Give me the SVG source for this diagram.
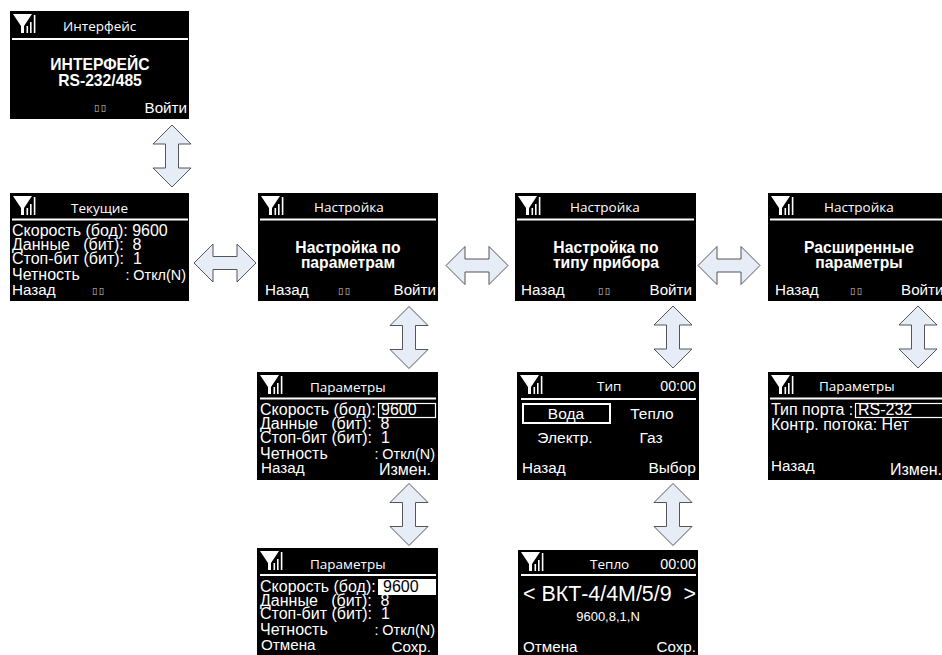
<svg xmlns="http://www.w3.org/2000/svg" width="942" height="655" viewBox="0 0 942 655">
<style>
text{fill:#fff;font-family:"Liberation Sans",Arial,sans-serif;font-size:16px;white-space:pre}
.t{font-family:"Open Sans","DejaVu Sans",sans-serif;font-size:13.5px}
.b{font-weight:bold;font-size:15.700px;text-anchor:middle}
.s{font-family:"DejaVu Sans",sans-serif;font-size:9.500px;letter-spacing:1.500px;fill:#ccc}
.c{font-size:14.300px}
.k{font-size:15.200px}
.o{font-size:14.400px}
.m{text-anchor:middle;font-size:15.500px}
.e{text-anchor:end}
.bg{fill:#000}
.ln{stroke:#fff;stroke-width:2}
.box{fill:none;stroke:#fff;stroke-width:1.200}
.arr{fill:#e6edf7;stroke:#444;stroke-width:.9}
</style>
<defs>
<g id="ic" fill="#fff"><path d="M3 3H22L14 15V22H11V15Z"/><rect x="16.500" y="15" width="1.600" height="7"/><rect x="20" y="11" width="1.600" height="11"/><rect x="23.800" y="4" width="1.600" height="18"/></g>
<path id="v" class="arr" d="M0 -31L19 -12H6.500V12H19L0 31L-19 12H-6.500V-12H-19Z"/>
<path id="h" class="arr" d="M-31 0L-12 -19V-6.500H12V-19L31 0L12 19V6.500H-12V19Z"/>
</defs>
<g id="connectors">
<use href="#v" x="172" y="156"/>
<use href="#h" x="225" y="263"/>
<use href="#h" x="477" y="265.500"/>
<use href="#h" x="729" y="265.500"/>
<use href="#v" x="409" y="337.500"/>
<use href="#v" x="673" y="337"/>
<use href="#v" x="918" y="337"/>
<use href="#v" x="409" y="514.500"/>
<use href="#v" x="673" y="514.500"/>
</g>
<g id="n-interface">
<rect class="bg" x="10" y="11" width="179" height="108"/><use href="#ic" x="10" y="11"/>
<line class="ln" x1="12" y1="39" x2="188" y2="39"/>
<text class="t" x="63" y="31">Интерфейс</text>
<text class="b" x="100" y="70">ИНТЕРФЕЙС</text><text class="b" x="100" y="86">RS-232/485</text>
<text class="s" x="94" y="111">▯▯</text><text class="k e" x="187" y="113">Войти</text>
</g>
<g id="n-current">
<rect class="bg" x="10" y="193" width="179" height="108"/><use href="#ic" x="10" y="193"/>
<line class="ln" x1="12" y1="219.500" x2="188" y2="219.500"/>
<text class="t" x="71" y="213">Текущие</text>
<text x="12" y="236">Скорость (бод): 9600</text>
<text x="12" y="250">Данные   (бит):  8</text>
<text x="12" y="264">Стоп-бит (бит):  1</text>
<text x="12" y="280">Четность</text><text class="o e" x="186" y="280">: Откл(N)</text>
<text class="k" x="12" y="295">Назад</text><text class="s" x="92" y="294">▯▯</text>
</g>
<g id="n-setup-params">
<rect class="bg" x="258" y="193" width="180" height="108"/><use href="#ic" x="258" y="193"/>
<line class="ln" x1="260" y1="219.500" x2="436" y2="219.500"/>
<text class="t" x="314" y="212">Настройка</text>
<text class="b" x="348" y="253">Настройка по</text><text class="b" x="348" y="268">параметрам</text>
<text class="k" x="265" y="295">Назад</text><text class="s" x="338" y="294">▯▯</text><text class="k e" x="436" y="295">Войти</text>
</g>
<g id="n-setup-type">
<rect class="bg" x="515" y="193" width="181" height="108"/><use href="#ic" x="515" y="193"/>
<line class="ln" x1="517" y1="219.500" x2="694" y2="219.500"/>
<text class="t" x="570" y="212">Настройка</text>
<text class="b" x="606" y="253">Настройка по</text><text class="b" x="606" y="268">типу прибора</text>
<text class="k" x="521" y="295">Назад</text><text class="s" x="598" y="294">▯▯</text><text class="k e" x="692" y="295">Войти</text>
</g>
<g id="n-setup-adv">
<rect class="bg" x="768" y="193" width="174" height="108"/><use href="#ic" x="768" y="193"/>
<line class="ln" x1="770" y1="219.500" x2="942" y2="219.500"/>
<text class="t" x="824" y="212">Настройка</text>
<text class="b" x="859" y="253">Расширенные</text><text class="b" x="859" y="268">параметры</text>
<text class="k" x="775" y="295">Назад</text><text class="s" x="850" y="294">▯▯</text><text class="k" x="901" y="295">Войти</text>
</g>
<g id="n-params-1">
<rect class="bg" x="257" y="372" width="181" height="108"/><use href="#ic" x="257" y="372"/>
<line class="ln" x1="260" y1="398.500" x2="436" y2="398.500"/>
<text class="t" x="310" y="392">Параметры</text>
<rect class="box" x="378.500" y="403.500" width="57" height="14"/>
<text x="260" y="415">Скорость (бод):</text><text x="381" y="415">9600</text>
<text x="260" y="429">Данные   (бит):  8</text>
<text x="260" y="443">Стоп-бит (бит):  1</text>
<text x="260" y="459">Четность</text><text class="o e" x="435" y="459">: Откл(N)</text>
<text class="k" x="261" y="473">Назад</text><text class="e" x="431" y="475">Измен.</text>
</g>
<g id="n-params-2">
<rect class="bg" x="257" y="548" width="181" height="107"/><use href="#ic" x="257" y="548"/>
<line class="ln" x1="260" y1="575" x2="436" y2="575"/>
<text class="t" x="310" y="569">Параметры</text>
<rect x="378" y="579" width="58" height="16" fill="#fff"/>
<text x="260" y="592">Скорость (бод):</text><text x="383" y="592" style="fill:#000">9600</text>
<text x="260" y="606">Данные   (бит):  8</text>
<text x="260" y="619">Стоп-бит (бит):  1</text>
<text x="260" y="635">Четность</text><text class="o e" x="435" y="635">: Откл(N)</text>
<text class="k" x="261" y="650">Отмена</text><text class="k e" x="431" y="652">Сохр.</text>
</g>
<g id="n-type">
<rect class="bg" x="517" y="372" width="182" height="108"/><use href="#ic" x="517" y="372"/>
<line class="ln" x1="521" y1="399" x2="696" y2="399"/>
<text class="t" x="597" y="391">Тип</text><text class="c e" x="696" y="391">00:00</text>
<rect x="523" y="404" width="87" height="19" fill="none" stroke="#fff" stroke-width="2"/>
<text class="m" x="566" y="419">Вода</text><text class="m" x="652" y="419">Тепло</text>
<text class="m" x="565" y="443">Электр.</text><text class="m" x="651" y="443">Газ</text>
<text class="k" x="522" y="473">Назад</text><text class="e" style="font-size:15.500px" x="696" y="473">Выбор</text>
</g>
<g id="n-heat">
<rect class="bg" x="518" y="550" width="180" height="105"/><use href="#ic" x="518" y="549"/>
<line class="ln" x1="521" y1="575" x2="696" y2="575"/>
<text class="t" x="590" y="569">Тепло</text><text class="c e" x="696" y="569">00:00</text>
<text x="523" y="601" style="font-size:21.400px">&lt; ВКТ-4/4М/5/9  &gt;</text>
<text x="608" y="621" text-anchor="middle" style="font-size:13px">9600,8,1,N</text>
<text class="k" x="523" y="652">Отмена</text><text class="k e" x="696" y="652">Сохр.</text>
</g>
<g id="n-params-3">
<rect class="bg" x="768" y="372" width="174" height="108"/><use href="#ic" x="768" y="372"/>
<line class="ln" x1="770" y1="398.500" x2="942" y2="398.500"/>
<text class="t" x="819" y="391">Параметры</text>
<rect class="box" x="855.500" y="403.500" width="90" height="14"/>
<text x="771" y="415">Тип порта :</text><text x="858" y="415">RS-232</text>
<text x="771" y="430">Контр. потока: Нет</text>
<text class="k" x="771" y="471">Назад</text><text x="890" y="475">Измен.</text>
</g>
</svg>
